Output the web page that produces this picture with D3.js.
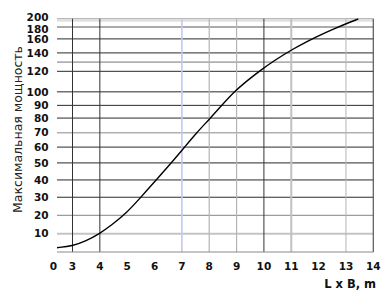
<!DOCTYPE html>
<html>
<head>
<meta charset="utf-8">
<script src="https://cdn.jsdelivr.net/npm/d3@7/dist/d3.min.js"></script>
<style>
  html, body { margin: 0; padding: 0; background: #fff; }
  svg { display: block; }
</style>
</head>
<body>
<script>
// ---- data ----
const xTicks = [0, 3, 4, 5, 6, 7, 8, 9, 10, 11, 12, 13, 14];
const yTicks = [10, 20, 30, 40, 50, 60, 70, 80, 90, 100, 120, 140, 160, 180, 200];
const xGrid = [3, 4, 7, 8, 9, 10, 11, 13, 14];
const yGrid = [10, 20, 30, 40, 50, 60, 70, 80, 90, 100, 120, 130, 140, 160, 180, 195, 200];
const curveX = [0, 3, 3.49, 4, 4.44, 4.92, 5.5, 6.09, 6.64, 7.08, 7.52, 8.03, 8.47, 8.91, 9.35, 9.86, 10.41, 11.03, 11.54, 12.06, 12.57, 13.04, 13.45];
const curveY = [2.35, 3.27, 6.0, 10.1, 14.9, 20.5, 30, 40.5, 50.6, 59.6, 69.6, 79.7, 90.3, 100, 110.1, 120.9, 132.3, 144.9, 155.6, 166.6, 177.1, 189.2, 199.5];
const xTitle = "L x B, m";
const yTitle = "Максимальная мощность";

(function () {
// ---- layout ----
const W = 388, H = 301;
const pLeft = 57, pRight = 373.3, pTop = 18.8, pBottom = 252;

const svg = d3.select("body").append("svg").attr("width", W).attr("height", H);

// broken x axis: 0 sits at the left edge, 3..14 linear
const x = d3.scaleLinear().domain([0, 3, 14]).range([pLeft, 72.5, pRight]);
// non-uniform value axis as printed on the original chart
const yDomain = [0, 10, 20, 30, 40, 50, 60, 70, 80, 90, 100, 120, 140, 160, 180, 200];
const yFrac = [0, 0.0786, 0.1567, 0.2348, 0.3090, 0.3820, 0.4498, 0.5116, 0.5743, 0.6288, 0.6868, 0.7748, 0.8537, 0.9138, 0.9644, 1];
const y = d3.scaleLinear().domain(yDomain).range(yFrac.map(f => pBottom - f * (pBottom - pTop)));

function hStyle(v) {
  if (v === 200) return ["#9a9a9a", 1];
  if (v === 195) return ["#c8c8c8", 1];
  if (v === 180) return ["#ababab", 2];
  if (v === 130 || v === 70) return ["#b0b0b0", 1.6];
  if (v === 20) return ["#9c9c9c", 1.2];
  if (v === 10) return ["#c4c4c4", 2];
  return ["#2a2a2a", 1];
}
function vStyle(v) {
  if (v === 7) return ["#c3c8f0", 1.6];
  if (v === 8 || v === 9) return ["#b4b4b4", 1.2];
  if (v === 11) return ["#c0c0c0", 2];
  if (v === 13) return ["#b4b4b4", 1];
  if (v === 14) return ["#555", 1.2];
  return ["#333", 1];
}

const grid = svg.append("g");
grid.selectAll("line.h").data(yGrid).enter().append("line")
  .attr("x1", pLeft).attr("x2", pRight)
  .attr("y1", d => y(d)).attr("y2", d => y(d))
  .attr("stroke", d => hStyle(d)[0]).attr("stroke-width", d => hStyle(d)[1]);
grid.selectAll("line.v").data(xGrid).enter().append("line")
  .attr("y1", pTop).attr("y2", pBottom)
  .attr("x1", d => x(d)).attr("x2", d => x(d))
  .attr("stroke", d => vStyle(d)[0]).attr("stroke-width", d => vStyle(d)[1]);

// bottom axis line
svg.append("line").attr("x1", pLeft).attr("x2", pRight).attr("y1", pBottom).attr("y2", pBottom)
  .attr("stroke", "#8a8a8a").attr("stroke-width", 1);

// x tick labels
svg.append("g").selectAll("text").data(xTicks).enter().append("text")
  .attr("x", d => x(d)).attr("y", 269.5)
  .attr("text-anchor", d => d === 0 ? "end" : "middle")
  .attr("font-family", "DejaVu Sans").attr("font-weight", "bold").attr("font-size", 10.5)
  .attr("fill", "#111")
  .text(d => d);

// y tick labels (the two topmost are spread apart as in the original)
function nudge(d) { return d === 200 ? -1.6 : d === 180 ? 1.7 : d === 160 ? 0.4 : 0; }
svg.append("g").selectAll("text").data(yTicks).enter().append("text")
  .attr("x", 48.5).attr("y", d => y(d) + 3.8 + nudge(d))
  .attr("text-anchor", "end")
  .attr("font-family", "DejaVu Sans").attr("font-weight", "bold").attr("font-size", 10.5)
  .attr("fill", "#111")
  .text(d => d);

// curve
const pts = curveX.map((v, i) => [v, curveY[i]]);
const line = d3.line().x(d => x(d[0])).y(d => y(d[1])).curve(d3.curveBasis);
svg.append("path").datum(pts).attr("d", line)
  .attr("fill", "none").attr("stroke", "#000").attr("stroke-width", 1.4);

// titles
svg.append("text").attr("x", 376).attr("y", 287.7).attr("text-anchor", "end")
  .attr("font-family", "DejaVu Sans").attr("font-weight", "bold").attr("font-size", 11.5)
  .attr("fill", "#111").text(xTitle);
svg.append("text")
  .attr("transform", "translate(21.5,129.5) rotate(-90)")
  .attr("text-anchor", "middle")
  .attr("font-family", "DejaVu Sans").attr("font-size", 12.5)
  .attr("fill", "#222").text(yTitle);
})();
</script>
</body>
</html>
